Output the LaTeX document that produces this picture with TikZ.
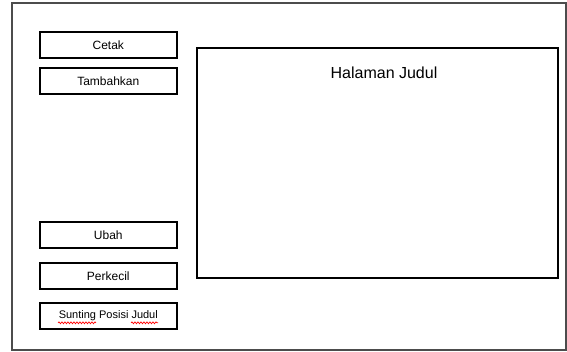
\documentclass[tikz,border=0pt]{standalone}
\usepackage{fontspec}
\setmainfont{Liberation Sans}
\usetikzlibrary{decorations.pathmorphing,calc}
\begin{document}
\begin{tikzpicture}[x=1pt,y=-1pt,
  btn/.style={draw=black,line width=1.6pt,minimum width=137pt,minimum height=26pt,inner sep=0pt,font=\fontsize{12}{14}\selectfont,anchor=north west},
  squig/.style={draw=red,line width=0.7pt,decorate,decoration={snake,amplitude=0.9pt,segment length=3pt}}]
\useasboundingbox (0,0) rectangle (567,351);
\node[draw=black!70,line width=1.8pt,minimum width=554pt,minimum height=347pt,inner sep=0pt,anchor=north west] (frame) at (11,2) {};
\node[btn] (cetak) at (39,31) {Cetak};
\node[btn] (tambah) at (39,67) {Tambahkan};
\node[btn] (ubah) at (39,221) {Ubah};
\node[btn] (kecil) at (39,262) {Perkecil};
\node[btn,font=\fontsize{11}{13}\selectfont] (sunting) at (39,302) {Sunting Posisi Judul};
\node[draw=black,line width=1.8pt,minimum width=361pt,minimum height=230pt,inner sep=0pt,anchor=north west] (page) at (196,47) {};
\node[font=\fontsize{16}{18}\selectfont,anchor=center] (judul) at (384,73) {Halaman Judul};
\coordinate (s1) at ($(sunting.west)+(19,7)$);
\coordinate (s2) at ($(sunting.west)+(57,7)$);
\coordinate (s3) at ($(sunting.west)+(92,7)$);
\coordinate (s4) at ($(sunting.west)+(119,7)$);
\draw[squig] (s1) -- (s2);
\draw[squig] (s3) -- (s4);
\end{tikzpicture}
\end{document}
